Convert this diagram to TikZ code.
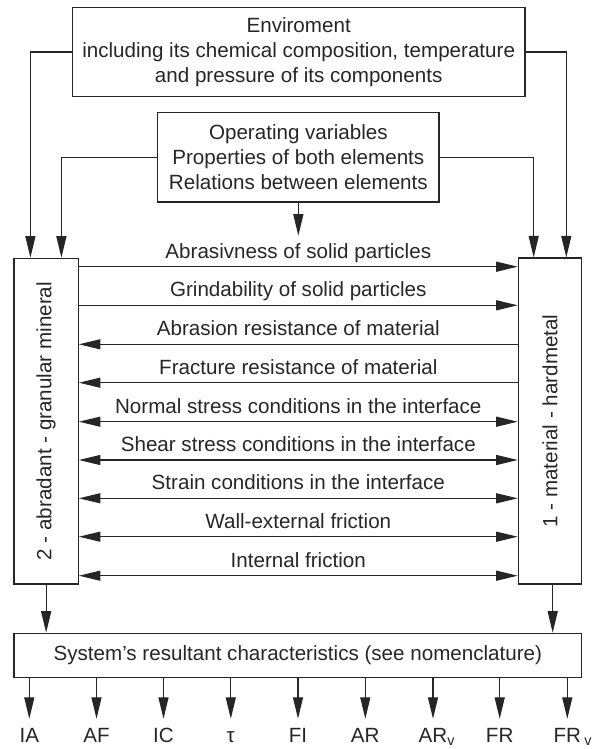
\documentclass[tikz,border=0pt]{standalone}
\usepackage{fontspec}
\setmainfont{Liberation Sans}
\usetikzlibrary{arrows.meta}
\definecolor{ink}{HTML}{262626}
\begin{document}
\begin{tikzpicture}[x=1pt,y=-1pt,
  every node/.style={text=ink, font=\fontsize{20.6}{25}\selectfont},
  tip/.tip={Triangle[length=21.5pt,width=10pt]},
  box/.style={draw=ink, line width=1.2pt, inner sep=0pt, align=center},
  arr/.style={draw=ink, line width=1.2pt, -tip},
  darr/.style={draw=ink, line width=1.2pt, tip-tip},
  rarr/.style={draw=ink, line width=1.2pt, tip-},
  lab/.style={anchor=base, inner sep=0pt},
  outlab/.style={anchor=base, inner sep=0pt, text height=14.8pt, text depth=0pt}
]
\useasboundingbox (0,0) rectangle (601,749);

% boxes
\node[box, minimum width=452.7pt, minimum height=89.4pt] (env) at (298.65,52)
  {Enviroment\\including its chemical composition, temperature\\and pressure of its components};
\node[box, minimum width=281.3pt, minimum height=89.7pt] (ops) at (298.35,157.15)
  {Operating variables\\Properties of both elements\\Relations between elements};
\node[box, minimum width=64.3pt, minimum height=325.7pt] (left) at (46.15,421.15) {};
\node[box, minimum width=63.4pt, minimum height=326pt] (right) at (550,421) {};
\node[rotate=90, inner sep=0pt] (lefttxt) at (left.center) {2 - abradant - granular mineral};
\node[rotate=90, inner sep=0pt] (righttxt) at (right.center) {1 - material - hardmetal};
\node[box, minimum width=567.7pt, minimum height=44.4pt] (sys) at (297.85,655.5)
  {System's resultant characteristics (see nomenclature)};

% top connectors
\draw[arr] (env.west) -| ([xshift=17pt]left.north west);
\draw[arr] (env.east) -| ([xshift=-16pt]right.north east);
\draw[arr] (ops.west) -| ([xshift=48pt]left.north west);
\draw[arr] (ops.east) -| ([xshift=16pt]right.north west);
\coordinate (opsend) at (298.35,235.7);
\draw[arr] (ops.south) -- (opsend);

% horizontal relations
\foreach \y/\st/\t in {
  266.7/arr/Abrasivness of solid particles,
  305.3/arr/Grindability of solid particles,
  344.3/rarr/Abrasion resistance of material,
  382.7/rarr/Fracture resistance of material,
  421.7/darr/Normal stress conditions in the interface,
  460/darr/Shear stress conditions in the interface,
  498.3/darr/Strain conditions in the interface,
  536.7/darr/Wall-external friction,
  575.7/darr/Internal friction}{
  \draw[\st] (left.east |- 0,\y) -- (right.west |- 0,\y);
  \node[lab] at (298.3,\y-8.6) {\t};
}

% down to system box
\draw[arr] (left.south) -- (left.south |- sys.north);
\draw[arr] ([xshift=2.7pt]right.south) -- ([xshift=2.7pt]right.south |- sys.north);

% outputs
\node[outlab] (o1) at (29.3,742.7) {IA};
\node[outlab] (o2) at (96.5,742.7) {AF};
\node[outlab] (o3) at (163.5,742.7) {IC};
\node[outlab] (o4) at (230.8,742.7) {τ};
\node[outlab] (o5) at (298,742.7) {FI};
\node[outlab] (o6) at (365.3,742.7) {AR};
\node[outlab] (o7) at (433,742.7) {AR\rlap{\textsubscript{v}}};
\node[outlab] (o8) at (499.7,742.7) {FR};
\node[outlab] (o9) at (567.3,742.7) {FR\rlap{\,\textsubscript{v}}};
\foreach \i in {1,...,9}{
  \draw[arr] (sys.south -| o\i) -- ([yshift=8.9pt]o\i.north);
}
\end{tikzpicture}
\end{document}
